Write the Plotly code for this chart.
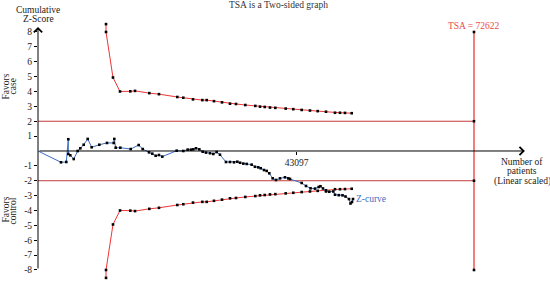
import plotly.graph_objects as go

# ---------------- data ----------------
TSA_N = 72622                      # required information size
X_TICK_VALS = [43097]
X_TICK_TEXT = ["43097"]
Y_TICK_VALS = [-8, -7, -6, -5, -4, -3, -2, -1, 1, 2, 3, 4, 5, 6, 7, 8]
Y_TICK_TEXT = ["-8", "-7", "-6", "-5", "-4", "-3", "-2", "-1",
               "1", "2", "3", "4", "5", "6", "7", "8"]
CONV_LEVELS = [2, -2]              # conventional significance lines
TSA_ENDS = [-8, 8]
TSA_MARKS = [8, 2, -2, -8]

BOUND_N = [11330, 11330, 12490, 13660, 15370, 16160, 18540, 20150, 23200, 24200,
           25820, 27370, 28100, 29310, 30650, 31980, 32980, 34530, 36190, 36980,
           37760, 38640, 39530, 41260, 42520, 43920, 45300, 46590, 47970, 49470,
           50300, 51130, 52250]
BOUND_UPPER = [8.53, 8.00, 4.94, 4.00, 4.01, 4.04, 3.89, 3.82, 3.63, 3.58,
               3.47, 3.42, 3.42, 3.35, 3.27, 3.18, 3.16, 3.09, 3.03, 2.98,
               2.96, 2.92, 2.90, 2.85, 2.81, 2.76, 2.72, 2.68, 2.64, 2.57,
               2.57, 2.56, 2.54]
BOUND_LOWER = [-8.53, -8.00, -4.94, -4.00, -4.01, -4.04, -3.89, -3.82, -3.63, -3.58,
               -3.47, -3.42, -3.42, -3.35, -3.27, -3.18, -3.16, -3.09, -3.03, -2.98,
               -2.96, -2.92, -2.90, -2.85, -2.81, -2.76, -2.72, -2.68, -2.64, -2.57,
               -2.57, -2.56, -2.54]

Z_N = [0, 3830, 4710, 5050, 5050, 5380, 5950, 6610, 7050, 7610, 8280, 8940,
       10210, 11490, 12610, 12710, 12940, 13710, 15440, 16770, 17440, 18490,
       19040, 19600, 20150, 20700, 23100, 24200, 24930, 25480, 25870, 26320,
       26870, 27430, 27980, 28650, 29200, 29760, 30310, 31310, 31980, 32650,
       33200, 33650, 34200, 34760, 35590, 36140, 36690, 37090, 37640, 38090,
       38530, 39090, 39640, 40310, 41140, 41690, 41970, 43920, 44640, 45390,
       46140, 46750, 47050, 47470, 47970, 48520, 49190, 49470, 50100, 50720,
       51220, 51800, 52050, 52300, 52470]
Z_VAL = [0.00, -0.76, -0.74, 0.79, -0.20, -0.29, -0.54, 0.00, 0.18, 0.42, 0.81, 0.25,
         0.42, 0.54, 0.54, 0.81, 0.22, 0.22, 0.13, 0.40, 0.13, -0.09,
         -0.18, -0.32, -0.27, -0.38, 0.02, 0.00, 0.09, 0.09, 0.11, 0.18,
         0.11, -0.05, -0.11, -0.15, -0.20, -0.07, -0.25, -0.74, -0.74, -0.76,
         -0.72, -0.79, -0.85, -0.87, -0.92, -1.06, -1.10, -1.16, -1.28, -1.34,
         -1.50, -1.84, -1.95, -1.84, -1.77, -1.84, -1.88, -2.15, -2.35, -2.51,
         -2.53, -2.42, -2.37, -2.52, -2.72, -2.74, -2.72, -2.94, -2.97, -2.98,
         -3.06, -3.23, -3.53, -3.43, -3.23]

# ---------------- layout geometry ----------------
W, H = 550, 281
ML, MR = 38, 25
X_MAX = 81117
Y_MIN, Y_MAX = -8.74, 10.15
X_ARROW_END = 81100
Y_ARROW_END = 8.34
FONT = "Liberation Serif, Times New Roman, DejaVu Serif, serif"
FS = 9.5
TXT = "#222222"

RED = "#f03535"
DARK_RED = "#c23b3b"
SALMON = "#f08080"
BLUE = "#3a6ec4"
MSIZE = 2.6


def px_x(p):
    return (p - ML) / (W - ML - MR)


def px_y(p):
    return 1 - p / H


fig = go.Figure()

for lvl in CONV_LEVELS:
    fig.add_trace(go.Scatter(x=[0, TSA_N], y=[lvl, lvl], mode="lines",
                             line=dict(color=DARK_RED, width=1), hoverinfo="skip"))

fig.add_trace(go.Scatter(x=[TSA_N, TSA_N], y=TSA_ENDS, mode="lines",
                         line=dict(color=SALMON, width=2), hoverinfo="skip"))
fig.add_trace(go.Scatter(x=[TSA_N] * len(TSA_MARKS), y=TSA_MARKS, mode="markers",
                         marker=dict(color="black", size=MSIZE, symbol="square"),
                         hoverinfo="skip"))

for yb in (BOUND_UPPER, BOUND_LOWER):
    fig.add_trace(go.Scatter(x=BOUND_N, y=yb, mode="lines+markers",
                             line=dict(color=RED, width=1),
                             marker=dict(color="black", size=MSIZE, symbol="square"),
                             hoverinfo="skip"))

fig.add_trace(go.Scatter(x=Z_N, y=Z_VAL, mode="lines",
                         line=dict(color=BLUE, width=1), hoverinfo="skip"))
fig.add_trace(go.Scatter(x=Z_N[1:], y=Z_VAL[1:], mode="markers",
                         marker=dict(color="black", size=MSIZE, symbol="square"),
                         hoverinfo="skip"))

ann = []
# axis arrows
ann.append(dict(x=X_ARROW_END, y=0, ax=0, ay=0, xref="x", yref="y", axref="x", ayref="y",
                text="", showarrow=True, arrowhead=4, arrowsize=1.6, arrowwidth=1,
                arrowcolor="black", standoff=0, startstandoff=0))
ann.append(dict(x=0, y=Y_ARROW_END, ax=0, ay=-8, xref="x", yref="y", axref="x", ayref="y",
                text="", showarrow=True, arrowhead=4, arrowsize=1.6, arrowwidth=1,
                arrowcolor="black", standoff=0, startstandoff=0))


def label(text, x, y, angle=0, color=TXT, xanchor="center"):
    ann.append(dict(text=text, x=px_x(x), y=px_y(y), xref="paper", yref="paper",
                    showarrow=False, textangle=angle, xanchor=xanchor, yanchor="middle",
                    font=dict(family=FONT, size=FS, color=color)))


label("TSA is a Two-sided graph", 278, 5, color="#333333")
label("Cumulative", 38, 10)
label("Z-Score", 38, 19.5)
label("Favors", 5.5, 87, angle=-90)
label("case", 12.5, 87, angle=-90)
label("Favors", 5.5, 210, angle=-90)
label("control", 12.5, 211, angle=-90)
label("Number of", 522, 162)
label("patients", 522, 171)
label("(Linear scaled)", 522, 181)

ann.append(dict(text="TSA = " + str(TSA_N), x=TSA_N, y=TSA_ENDS[1], xref="x", yref="y",
                showarrow=False, xanchor="center", yanchor="bottom", yshift=-1,
                font=dict(family=FONT, size=FS, color="#e84a4a")))
ann.append(dict(text="Z-curve", x=Z_N[-1], y=Z_VAL[-1], xref="x", yref="y",
                showarrow=False, xanchor="left", yanchor="middle", xshift=1,
                font=dict(family=FONT, size=FS, color=BLUE)))

fig.update_layout(
    width=W, height=H, template="none",
    margin=dict(l=ML, r=MR, t=0, b=0, pad=0),
    paper_bgcolor="white", plot_bgcolor="white",
    showlegend=False,
    annotations=ann,
    xaxis=dict(range=[0, X_MAX], showgrid=False, zeroline=False, showline=False,
               tickvals=X_TICK_VALS, ticktext=X_TICK_TEXT, ticks="outside",
               ticklen=3, tickwidth=1, tickcolor="black",
               tickfont=dict(family=FONT, size=FS, color=TXT),
               anchor="free", position=(0 - Y_MIN) / (Y_MAX - Y_MIN),
               automargin=False, fixedrange=True),
    yaxis=dict(range=[Y_MIN, Y_MAX], showgrid=False, zeroline=False, showline=False,
               tickvals=Y_TICK_VALS, ticktext=Y_TICK_TEXT, ticks="outside",
               ticklen=3, tickwidth=1, tickcolor="black",
               tickfont=dict(family=FONT, size=FS, color=TXT),
               automargin=False, fixedrange=True),
)

fig.write_html("out.html", config={"displayModeBar": False},
               post_script="document.body.style.margin='0';document.body.style.overflow='hidden';")
